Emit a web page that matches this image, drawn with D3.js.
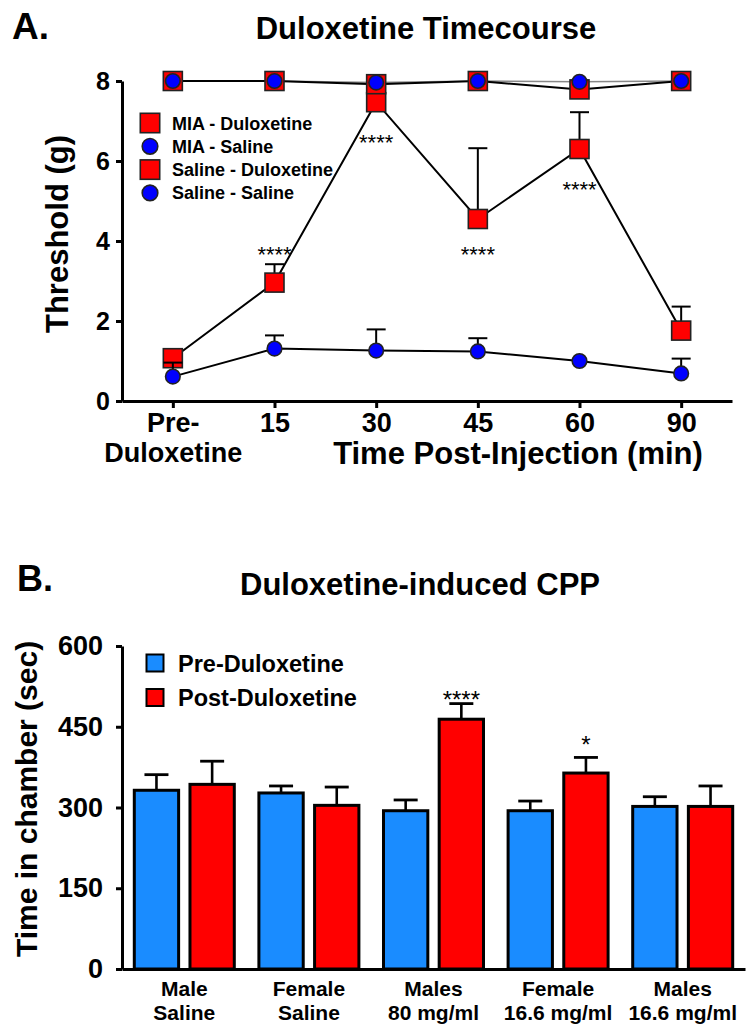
<!DOCTYPE html>
<html>
<head>
<meta charset="utf-8">
<script src="https://cdn.jsdelivr.net/npm/d3@7"></script>
<style>
  html, body { margin: 0; padding: 0; background: #fff; }
  svg { display: block; }
  text { font-family: "Liberation Sans", Arial, sans-serif; fill: #000; }
</style>
</head>
<body>
<svg id="chart" width="755" height="1035"></svg>
<script>
// ---------- Panel A data ----------
const timeLabels = ["Pre-|Duloxetine", "15", "30", "45", "60", "90"];
const seriesNames = ["MIA - Duloxetine", "MIA - Saline", "Saline - Duloxetine", "Saline - Saline"];
const miaDulox    = [1.07, 2.96, 7.47, 4.55, 6.30, 1.76];
const miaDuloxErr = [0.20, 0.46, 0.35, 1.77, 0.92, 0.60];
const miaSaline    = [0.61, 1.31, 1.26, 1.24, 1.00, 0.69];
const miaSalineErr = [0.35, 0.33, 0.53, 0.33, 0.00, 0.37];
const salDulox    = [8.00, 8.00, 7.92, 8.00, 7.79, 8.00];
const salDuloxErr = [0, 0, 0, 0, 0, 0];
const salSaline    = [8.00, 8.00, 7.96, 8.00, 7.98, 8.00];
const salSalineErr = [0, 0, 0, 0, 0, 0];
const yTicksA = [0, 2, 4, 6, 8];
const sigA = [{i: 1, v: 3.78, t: "****"}, {i: 2, v: 6.58, t: "****"}, {i: 3, v: 3.78, t: "****"}, {i: 4, v: 5.4, t: "****"}];

// ---------- Panel B data ----------
const groups = ["Male|Saline", "Female|Saline", "Males|80 mg/ml", "Female|16.6 mg/ml", "Males|16.6 mg/ml"];
const phases = ["Pre-Duloxetine", "Post-Duloxetine"];
const preVals  = [332, 327, 294, 294, 302];
const preErr   = [29, 13, 20, 18, 18];
const postVals = [343, 304, 464, 364, 302];
const postErr  = [43, 34, 29, 29, 38];
const yTicksB = [0, 150, 300, 450, 600];
const sigB = [{g: 2, p: 1, v: 509, t: "****"}, {g: 3, p: 1, v: 425, t: "*"}];

const svg = d3.select("#chart");
const RED = "#ff0000", BLUE_DOT = "#0000ff", BLUE_BAR = "#1a8cff";

// ================= Panel A =================
const xA = d3.scaleLinear().domain([-0.5, 5.5]).range([122, 732]);
const yA = d3.scaleLinear().domain([0, 8]).range([401, 81]);

svg.append("text").attr("x", 12).attr("y", 39).attr("font-size", 37).attr("font-weight", "bold").text("A.");
svg.append("text").attr("x", 426).attr("y", 39).attr("text-anchor", "middle")
  .attr("font-size", 31).attr("font-weight", "bold").text("Duloxetine Timecourse");

// axes
const gyA = svg.append("g").attr("transform", "translate(122,0)")
  .call(d3.axisLeft(yA).tickValues(yTicksA).tickSize(6).tickSizeOuter(0).tickPadding(6));
gyA.select(".domain").attr("stroke-width", 3);
gyA.selectAll(".tick line").attr("stroke-width", 3);
gyA.selectAll(".tick text").attr("font-size", 25).attr("font-weight", "bold").attr("font-family", "Liberation Sans, Arial, sans-serif");

const gxA = svg.append("g").attr("transform", "translate(0,401)")
  .call(d3.axisBottom(xA).tickValues(d3.range(timeLabels.length)).tickSize(7).tickSizeOuter(0).tickPadding(5)
    .tickFormat(i => timeLabels[i]));
gxA.select(".domain").attr("stroke-width", 3);
gxA.selectAll(".tick line").attr("stroke-width", 3);
gxA.selectAll(".tick text").attr("font-size", 27).attr("font-weight", "bold").attr("font-family", "Liberation Sans, Arial, sans-serif")
  .each(function(i) {
    const parts = timeLabels[i].split("|");
    const t = d3.select(this);
    t.text(null);
    parts.forEach((p, k) => t.append("tspan").attr("x", 0).attr("dy", k === 0 ? "0.71em" : "1.12em").text(p));
    t.attr("dy", null);
  });

svg.append("text").attr("x", 518).attr("y", 464).attr("text-anchor", "middle")
  .attr("font-size", 31).attr("font-weight", "bold").text("Time Post-Injection (min)");
svg.append("text").attr("transform", "translate(68,234) rotate(-90)").attr("text-anchor", "middle")
  .attr("font-size", 31).attr("font-weight", "bold").text("Threshold (g)");

const seriesA = [
  {vals: miaDulox, err: miaDuloxErr, shape: "square", line: "#000", lw: 2},
  {vals: miaSaline, err: miaSalineErr, shape: "circle", line: "#000", lw: 2},
  {vals: salDulox, err: salDuloxErr, shape: "square", line: "#000", lw: 2},
  {vals: salSaline, err: salSalineErr, shape: "circle", line: "#888", lw: 1.6}
];
const lineGen = d3.line().x((d, i) => xA(i)).y(d => yA(d));
const SQ = 19, CR = 7.3, CAP = 19;

// draw lines first (underneath)
seriesA.slice().reverse().forEach(s => {
  svg.append("path").datum(s.vals).attr("d", lineGen).attr("fill", "none")
    .attr("stroke", s.line).attr("stroke-width", s.lw);
});
seriesA.forEach(s => {
  const g = svg.append("g");
  s.vals.forEach((v, i) => {
    const e = s.err[i];
    if (e > 0) {
      g.append("line").attr("x1", xA(i)).attr("x2", xA(i)).attr("y1", yA(v)).attr("y2", yA(v + e))
        .attr("stroke", "#000").attr("stroke-width", 2);
      g.append("line").attr("x1", xA(i) - CAP / 2).attr("x2", xA(i) + CAP / 2).attr("y1", yA(v + e)).attr("y2", yA(v + e))
        .attr("stroke", "#000").attr("stroke-width", 2);
    }
  });
  s.vals.forEach((v, i) => {
    if (s.shape === "square") {
      g.append("rect").attr("x", xA(i) - SQ / 2).attr("y", yA(v) - SQ / 2).attr("width", SQ).attr("height", SQ)
        .attr("fill", RED).attr("stroke", "#222").attr("stroke-width", 1.6);
    } else {
      g.append("circle").attr("cx", xA(i)).attr("cy", yA(v)).attr("r", CR)
        .attr("fill", BLUE_DOT).attr("stroke", "#222").attr("stroke-width", 1.6);
    }
  });
});

sigA.forEach(s => {
  svg.append("text").attr("x", xA(s.i)).attr("y", yA(s.v) + 12).attr("text-anchor", "middle")
    .attr("font-size", 22).text(s.t);
});

// legend A
const legA = svg.append("g");
seriesNames.forEach((n, k) => {
  const cy = 123 + k * 23.3;
  if (seriesA[k].shape === "square") {
    legA.append("rect").attr("x", 150 - 9.7).attr("y", cy - 9.7).attr("width", 19.4).attr("height", 19.4)
      .attr("fill", RED).attr("stroke", "#222").attr("stroke-width", 1.6);
  } else {
    legA.append("circle").attr("cx", 150).attr("cy", cy).attr("r", 7.8)
      .attr("fill", BLUE_DOT).attr("stroke", "#222").attr("stroke-width", 1.6);
  }
  legA.append("text").attr("x", 172).attr("y", cy + 6.5).attr("font-size", 18).attr("font-weight", "bold").text(n);
});

// ================= Panel B =================
const xB = d3.scaleBand().domain(groups).range([122, 745]).padding(0);
const xSub = d3.scaleBand().domain(phases).range([10.8, 113.8]).paddingInner(0.15).paddingOuter(0);
const yB = d3.scaleLinear().domain([0, 600]).range([969, 646]);

svg.append("text").attr("x", 17).attr("y", 591).attr("font-size", 36).attr("font-weight", "bold").text("B.");
svg.append("text").attr("x", 420).attr("y", 595).attr("text-anchor", "middle")
  .attr("font-size", 31).attr("font-weight", "bold").text("Duloxetine-induced CPP");

const barData = [];
groups.forEach((g, gi) => {
  barData.push({g, p: phases[0], v: preVals[gi], e: preErr[gi], c: BLUE_BAR});
  barData.push({g, p: phases[1], v: postVals[gi], e: postErr[gi], c: RED});
});
const BW = 3;
const gb = svg.append("g");
barData.forEach(d => {
  const x0 = xB(d.g) + xSub(d.p);
  const w = xSub.bandwidth();
  const cx = x0 + w / 2;
  gb.append("line").attr("x1", cx).attr("x2", cx).attr("y1", yB(d.v)).attr("y2", yB(d.v + d.e))
    .attr("stroke", "#000").attr("stroke-width", 2.6);
  gb.append("line").attr("x1", cx - 12).attr("x2", cx + 12).attr("y1", yB(d.v + d.e)).attr("y2", yB(d.v + d.e))
    .attr("stroke", "#000").attr("stroke-width", 2.8);
  gb.append("rect").attr("x", x0 + BW / 2).attr("y", yB(d.v)).attr("width", w - BW)
    .attr("height", yB(0) - yB(d.v)).attr("fill", d.c).attr("stroke", "#000").attr("stroke-width", BW);
});

const gyB = svg.append("g").attr("transform", "translate(122,0)")
  .call(d3.axisLeft(yB).tickValues(yTicksB).tickSize(6).tickSizeOuter(0).tickPadding(13));
gyB.select(".domain").attr("stroke-width", 3);
gyB.selectAll(".tick line").attr("stroke-width", 3);
gyB.selectAll(".tick text").attr("font-size", 27).attr("font-weight", "bold").attr("font-family", "Liberation Sans, Arial, sans-serif");

const gxB = svg.append("g").attr("transform", "translate(0,969)")
  .call(d3.axisBottom(xB).tickSize(0).tickSizeOuter(0).tickPadding(12));
gxB.select(".domain").attr("stroke-width", 3);
gxB.selectAll(".tick text").attr("font-size", 21).attr("font-weight", "bold").attr("font-family", "Liberation Sans, Arial, sans-serif")
  .each(function(g) {
    const parts = g.split("|");
    const t = d3.select(this);
    t.text(null);
    parts.forEach((p, k) => t.append("tspan").attr("x", 0).attr("dy", k === 0 ? "0.71em" : "1.15em").text(p));
    t.attr("dy", null);
  });

svg.append("text").attr("transform", "translate(37,799) rotate(-90)").attr("text-anchor", "middle")
  .attr("font-size", 30).attr("font-weight", "bold").text("Time in chamber (sec)");

sigB.forEach(s => {
  const cx = xB(groups[s.g]) + xSub(phases[s.p]) + xSub.bandwidth() / 2;
  svg.append("text").attr("x", cx).attr("y", yB(s.v) + 13).attr("text-anchor", "middle")
    .attr("font-size", 24).text(s.t);
});

// legend B
phases.forEach((p, k) => {
  const cy = 663 + k * 34.5;
  svg.append("rect").attr("x", 146.5).attr("y", cy - 8.5).attr("width", 17).attr("height", 17)
    .attr("fill", k === 0 ? BLUE_BAR : RED).attr("stroke", "#000").attr("stroke-width", 2);
  svg.append("text").attr("x", 178).attr("y", cy + 8.5).attr("font-size", 23.5).attr("font-weight", "bold").text(p);
});
</script>
</body>
</html>
